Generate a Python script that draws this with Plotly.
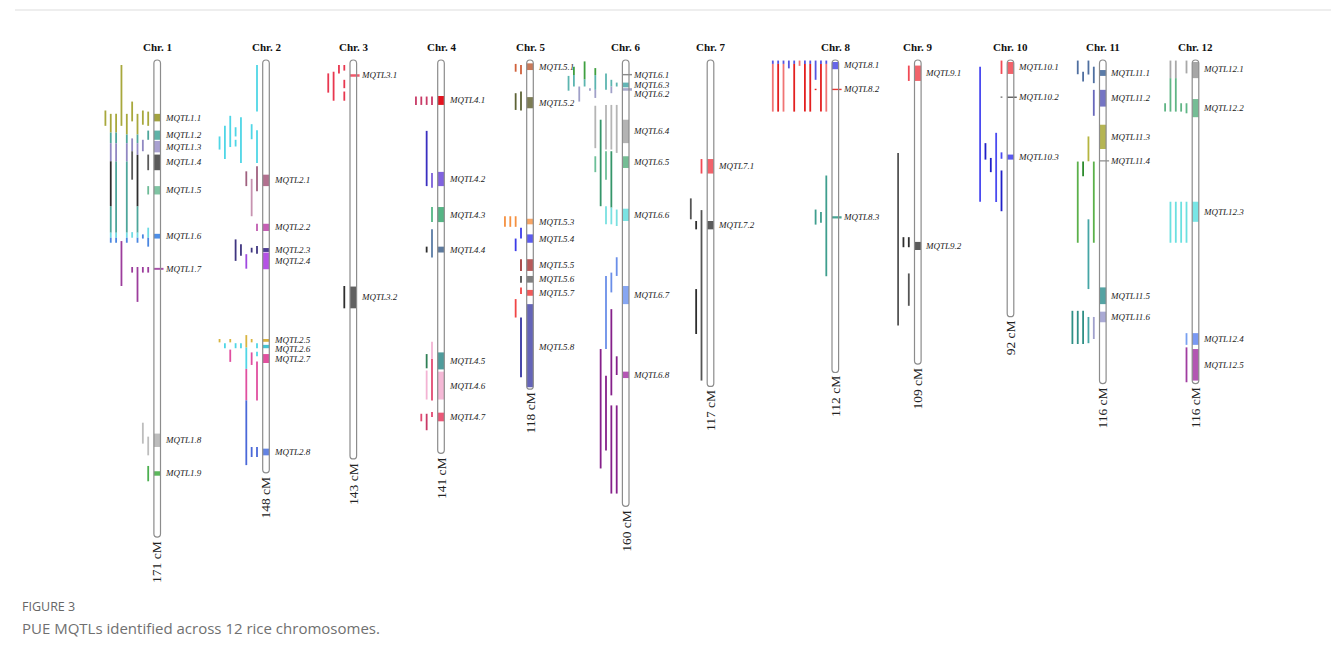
import plotly.graph_objects as go

# ---------------------------------------------------------------- data
CHROMOSOMES = [f"Chr. {i}" for i in range(1, 13)]
LENGTHS_CM = [171, 148, 143, 141, 118, 160, 117, 112, 109, 92, 116, 116]

# Meta-QTL regions on each chromosome: (name, start cM, end cM)
MQTL_REGIONS = [
    [("MQTL1.1", 19.3, 22.0), ("MQTL1.2", 25.3, 28.6), ("MQTL1.3", 29.0, 33.1),
     ("MQTL1.4", 33.9, 39.5), ("MQTL1.5", 45.2, 48.2), ("MQTL1.6", 62.3, 64.0),
     ("MQTL1.7", 74.5, 75.2), ("MQTL1.8", 133.9, 138.7), ("MQTL1.9", 147.4, 149.0)],
    [("MQTL2.1", 41.1, 45.2), ("MQTL2.2", 58.7, 61.3), ("MQTL2.3", 67.4, 68.8),
     ("MQTL2.4", 69.0, 75.0), ("MQTL2.5", 100.0, 101.0), ("MQTL2.6", 102.1, 103.3),
     ("MQTL2.7", 105.4, 108.6), ("MQTL2.8", 139.3, 141.7)],
    [("MQTL3.1", 5.1, 6.0), ("MQTL3.2", 81.2, 89.0)],
    [("MQTL4.1", 12.9, 16.1), ("MQTL4.2", 40.1, 45.2), ("MQTL4.3", 52.7, 58.1),
     ("MQTL4.4", 66.9, 69.0), ("MQTL4.5", 104.8, 110.9), ("MQTL4.6", 111.7, 121.7),
     ("MQTL4.7", 126.4, 129.5)],
    [("MQTL5.1", 1.2, 3.6), ("MQTL5.2", 13.3, 17.3), ("MQTL5.3", 56.9, 58.9),
     ("MQTL5.4", 62.5, 65.5), ("MQTL5.5", 71.4, 75.6), ("MQTL5.6", 77.4, 79.8),
     ("MQTL5.7", 82.4, 84.5), ("MQTL5.8", 87.5, 118.0)],
    [("MQTL6.1", 5.0, 5.5), ("MQTL6.3", 8.1, 9.8), ("MQTL6.2", 10.1, 11.0),
     ("MQTL6.4", 21.4, 29.8), ("MQTL6.5", 34.5, 38.7), ("MQTL6.6", 53.3, 57.7),
     ("MQTL6.7", 81.0, 87.5), ("MQTL6.8", 111.7, 114.0)],
    [("MQTL7.1", 35.5, 40.7), ("MQTL7.2", 57.7, 60.7)],
    [("MQTL8.1", 0.6, 3.3), ("MQTL8.2", 10.3, 10.8), ("MQTL8.3", 56.0, 56.8)],
    [("MQTL9.1", 2.0, 7.5), ("MQTL9.2", 65.2, 68.1)],
    [("MQTL10.1", 0.2, 5.0), ("MQTL10.2", 13.1, 13.6), ("MQTL10.3", 33.9, 35.7)],
    [("MQTL11.1", 3.6, 5.7), ("MQTL11.2", 10.7, 16.7), ("MQTL11.3", 23.2, 31.9),
     ("MQTL11.4", 35.9, 36.4), ("MQTL11.5", 81.5, 87.5), ("MQTL11.6", 90.2, 94.0)],
    [("MQTL12.1", 0.0, 6.5), ("MQTL12.2", 14.0, 20.5), ("MQTL12.3", 50.8, 58.0),
     ("MQTL12.4", 97.9, 102.1), ("MQTL12.5", 103.6, 114.9)],
]

# Projected QTL confidence intervals: (track, start cM, end cM, colour group)
QTL_INTERVALS = [
    [  # Chr. 1
        (8, 18.1, 23.6, "olive"),
        (7, 19.3, 26.0, "olive"), (7, 26.0, 29.8, "teal"), (7, 29.8, 36.3, "lav"),
        (7, 36.3, 52.4, "black"), (7, 52.4, 61.9, "teal"), (7, 61.9, 63.7, "cyan"),
        (7, 63.7, 65.5, "blue"),
        (6, 19.3, 26.0, "olive"), (6, 26.0, 29.8, "teal"), (6, 29.8, 36.3, "lav"),
        (6, 36.3, 61.9, "teal"), (6, 61.9, 63.7, "cyan"), (6, 63.7, 65.5, "blue"),
        (5, 1.8, 23.6, "olive"), (5, 64.9, 81.0, "purple"),
        (4, 19.3, 26.7, "olive"), (4, 26.7, 29.8, "teal"), (4, 29.8, 36.3, "lav"),
        (4, 36.3, 61.9, "teal"), (4, 61.9, 63.7, "cyan"), (4, 63.7, 65.5, "blue"),
        (3, 14.9, 22.0, "olive"), (3, 28.1, 32.7, "lav"), (3, 32.7, 42.9, "dark"),
        (3, 61.7, 63.7, "cyan"), (3, 74.2, 76.2, "purple"),
        (2, 19.3, 26.7, "olive"), (2, 26.7, 29.8, "teal"), (2, 29.8, 34.0, "lav"),
        (2, 34.0, 52.4, "black"), (2, 52.4, 61.9, "teal"), (2, 61.9, 63.7, "cyan"),
        (2, 63.7, 65.5, "blue"), (2, 74.2, 86.7, "purple"),
        (1, 18.1, 23.2, "olive"), (1, 28.6, 32.7, "lav"), (1, 62.5, 64.0, "blue"),
        (1, 74.2, 76.2, "purple"), (1, 130.0, 137.5, "lgray"),
        (0, 18.5, 23.6, "olive"), (0, 25.3, 28.6, "teal"), (0, 33.9, 39.5, "dark"),
        (0, 45.2, 48.2, "mint"), (0, 60.1, 63.7, "cyan"), (0, 63.7, 66.9, "blue"),
        (0, 74.2, 76.2, "purple"), (0, 135.0, 141.7, "lgray"), (0, 145.5, 151.0, "green"),
    ],
    [  # Chr. 2
        (0, 1.8, 18.5, "cyan2"), (0, 25.2, 36.9, "cyan2"), (0, 38.1, 47.0, "mauve"),
        (0, 58.7, 61.3, "orchid"), (0, 66.7, 69.4, "indigo"), (0, 101.5, 103.3, "cyan2"),
        (0, 104.6, 106.2, "cyan2"), (0, 108.1, 122.0, "pink"), (0, 138.7, 142.3, "blue2"),
        (1, 23.0, 28.4, "cyan2"), (1, 42.6, 56.0, "mauvelt"), (1, 67.3, 69.0, "indigo"),
        (1, 100.0, 101.2, "gold"), (1, 104.8, 109.3, "pink"), (1, 138.7, 142.3, "blue2"),
        (2, 39.9, 45.2, "mauve"), (2, 69.6, 74.8, "violet"), (2, 98.6, 103.0, "gold"),
        (2, 103.0, 110.7, "cyan2"), (2, 110.7, 122.0, "pink"), (2, 122.0, 145.2, "blue2"),
        (3, 20.5, 36.9, "cyan2"), (3, 66.0, 70.2, "indigo"), (3, 101.5, 103.3, "cyan2"),
        (4, 24.1, 27.4, "cyan2"), (4, 28.6, 31.0, "cyan2"), (4, 64.3, 72.0, "indigo"),
        (4, 101.5, 103.3, "cyan2"),
        (5, 20.0, 31.2, "cyan2"), (5, 100.0, 101.2, "gold"), (5, 103.8, 108.2, "pink"),
        (6, 23.6, 35.5, "cyan2"), (6, 101.5, 103.3, "cyan2"),
        (7, 27.4, 32.1, "cyan2"), (7, 100.0, 101.2, "gold"),
    ],
    [  # Chr. 3
        (3, 4.8, 11.7, "red3"), (2, 4.2, 14.6, "red3"), (1, 1.8, 4.8, "red3"),
        (0, 1.8, 3.8, "red3"), (0, 7.1, 10.1, "red3"), (0, 11.3, 14.6, "red3"),
        (0, 81.0, 89.0, "black"),
    ],
    [  # Chr. 4
        (3, 13.1, 16.1, "crimson"),
        (2, 13.1, 16.1, "crimson"), (2, 126.8, 129.5, "pinkred"),
        (1, 13.1, 16.1, "crimson"), (1, 25.4, 45.2, "blue4"), (1, 66.9, 69.0, "black"),
        (1, 105.4, 110.5, "dkgreen"), (1, 111.3, 121.7, "lpink"), (1, 126.8, 132.7, "crimson"),
        (0, 13.1, 16.1, "crimson"), (0, 40.5, 45.8, "violet4"), (0, 52.7, 58.1, "green4"),
        (0, 60.7, 70.8, "slate"), (0, 101.0, 107.1, "lpink"), (0, 107.1, 122.0, "pinkred"),
        (0, 126.2, 128.0, "pinkred"),
    ],
    [  # Chr. 5
        (0, 1.8, 5.1, "orred"), (0, 11.3, 18.1, "dkolive"), (0, 60.1, 64.0, "blue5"),
        (0, 71.4, 75.6, "dkred"), (0, 77.4, 79.8, "gray5"), (0, 81.5, 83.9, "red"),
        (0, 92.3, 113.7, "navy"),
        (1, 1.4, 4.2, "orred"), (1, 11.9, 17.9, "dkolive"), (1, 56.0, 59.8, "orange"),
        (1, 64.0, 68.5, "blue5"), (1, 85.7, 92.3, "red"),
        (2, 56.0, 59.8, "orange"), (3, 56.0, 59.8, "orange"),
    ],
    [  # Chr. 6
        (9, 5.7, 11.0, "teal6"),
        (8, 2.4, 5.4, "green6"), (8, 5.4, 9.5, "teal6"),
        (7, 9.5, 14.9, "lav6"),
        (6, 0.5, 6.9, "green6"), (6, 6.9, 9.5, "teal6"),
        (5, 10.1, 11.0, "lav6"),
        (4, 2.9, 5.4, "green6"), (4, 5.4, 10.7, "teal6"), (4, 10.7, 13.6, "lav6"),
        (4, 16.4, 31.6, "gray6"), (4, 34.5, 40.2, "mint6"),
        (3, 21.4, 52.4, "dkgreen6"), (3, 103.6, 146.4, "purple6"),
        (2, 4.8, 10.7, "teal6"), (2, 16.1, 32.1, "gray6"), (2, 32.7, 42.9, "mint6"),
        (2, 52.4, 58.9, "cyan6"), (2, 77.4, 103.6, "lblue"), (2, 113.2, 140.0, "purple6"),
        (1, 7.1, 9.5, "teal6"), (1, 9.5, 11.9, "lav6"), (1, 16.1, 32.1, "gray6"),
        (1, 32.7, 52.9, "dkgreen6"), (1, 52.9, 58.9, "cyan6"), (1, 76.2, 83.3, "lblue"),
        (1, 89.3, 120.2, "purple6"), (1, 123.8, 155.4, "purple6"),
        (0, 8.1, 9.5, "teal6"), (0, 16.1, 33.3, "gray6"), (0, 53.6, 59.5, "cyan6"),
        (0, 70.7, 77.4, "lblue"), (0, 106.2, 112.9, "purple6"), (0, 123.8, 155.4, "purple6"),
    ],
    [  # Chr. 7
        (0, 35.5, 40.7, "red7"), (0, 53.8, 114.9, "dgray"),
        (1, 57.7, 60.7, "black"), (1, 82.1, 98.2, "black"),
        (2, 49.6, 57.1, "dgray"),
    ],
    [  # Chr. 8
        (10, 0.2, 1.4, "blue8"), (10, 1.4, 18.5, "salmon"),
        (9, 0.2, 1.4, "blue8"), (9, 1.4, 18.5, "red8"),
        (8, 0.2, 1.4, "blue8"), (8, 1.4, 18.5, "salmon"),
        (7, 0.2, 3.0, "blue8"),
        (6, 0.2, 1.4, "blue8"), (6, 1.4, 18.5, "red8"),
        (5, 0.2, 2.1, "salmon"),
        (4, 0.2, 1.4, "blue8"), (4, 1.4, 18.5, "red8"),
        (3, 0.2, 1.4, "blue8"), (3, 1.4, 18.5, "red8"),
        (2, 0.2, 7.1, "blue8"), (2, 10.3, 10.8, "red8"), (2, 53.6, 59.0, "teal8"),
        (1, 0.2, 1.4, "blue8"), (1, 1.4, 18.5, "red8"), (1, 54.5, 58.3, "teal8"),
        (0, 0.2, 1.4, "blue8"), (0, 1.4, 18.5, "salmon"), (0, 41.4, 77.5, "teal8"),
    ],
    [  # Chr. 9
        (0, 2.0, 7.5, "red7"), (0, 63.5, 67.1, "black"), (0, 76.5, 88.1, "dgray"),
        (1, 63.5, 67.1, "black"),
        (2, 33.3, 95.2, "dgray"),
    ],
    [  # Chr. 10
        (0, 0.2, 5.0, "red7"), (0, 13.1, 13.5, "dgray"), (0, 33.1, 35.4, "blue10"),
        (0, 39.6, 54.2, "navy10"),
        (1, 26.1, 50.9, "blue10"), (2, 35.1, 40.2, "navy10"), (3, 29.8, 35.7, "navy10"),
        (4, 2.4, 50.8, "blue10"),
    ],
    [  # Chr. 11
        (0, 2.4, 8.3, "slate11"), (0, 10.7, 20.0, "slateblue"), (0, 36.4, 65.5, "green11"),
        (0, 92.1, 100.0, "lav11"),
        (1, 0.2, 5.2, "slate11"), (1, 27.4, 36.3, "olive11"), (1, 57.1, 82.1, "teal11"),
        (1, 92.1, 101.5, "teal11"),
        (2, 4.2, 7.7, "slate11"), (2, 36.4, 41.7, "dkgreen11"), (2, 89.9, 101.8, "tealdk"),
        (3, 0.2, 5.1, "slate11"), (3, 36.4, 65.5, "green11"), (3, 89.9, 101.8, "tealdk"),
        (4, 89.9, 101.8, "tealdk"),
    ],
    [  # Chr. 12
        (0, 0.2, 4.8, "gray12"), (0, 15.5, 19.1, "green12"), (0, 50.8, 65.5, "cyan12"),
        (0, 97.9, 102.1, "lblue12"), (0, 103.0, 115.5, "purple12"),
        (1, 15.5, 18.5, "green12"), (1, 50.8, 65.5, "cyan12"),
        (2, 0.2, 6.5, "gray12"), (2, 6.5, 18.5, "green12"), (2, 50.8, 65.5, "cyan12"),
        (3, 0.2, 6.5, "gray12"), (3, 6.5, 18.5, "green12"), (3, 50.8, 65.5, "cyan12"),
        (4, 15.5, 18.5, "green12"),
    ],
]

# ---------------------------------------------------------------- styles
MQTL_COLOURS = {
    "MQTL1.1": "#a3a33f", "MQTL1.2": "#5fb3a8", "MQTL1.3": "#a9a1d1", "MQTL1.4": "#5a5a5a",
    "MQTL1.5": "#7fc4a3", "MQTL1.6": "#4d8fe8", "MQTL1.7": "#a850a8", "MQTL1.8": "#bdbdbd",
    "MQTL1.9": "#5cb85c",
    "MQTL2.1": "#b2708f", "MQTL2.2": "#c65fb5", "MQTL2.3": "#4d3d94", "MQTL2.4": "#b552e6",
    "MQTL2.5": "#d9b23f", "MQTL2.6": "#45c3d3", "MQTL2.7": "#e2509f", "MQTL2.8": "#6383e3",
    "MQTL3.1": "#ef5a6c", "MQTL3.2": "#616161",
    "MQTL4.1": "#e5131f", "MQTL4.2": "#8062e0", "MQTL4.3": "#55b585", "MQTL4.4": "#5d7a9e",
    "MQTL4.5": "#4f9c9c", "MQTL4.6": "#f5b8d6", "MQTL4.7": "#ec5878",
    "MQTL5.1": "#c97a5a", "MQTL5.2": "#7d7d55", "MQTL5.3": "#f7a565", "MQTL5.4": "#5c5cf0",
    "MQTL5.5": "#b85a5a", "MQTL5.6": "#7f7f7f", "MQTL5.7": "#f25a5a", "MQTL5.8": "#6565b8",
    "MQTL6.1": "#8a8a8a", "MQTL6.2": "#a7a7c9", "MQTL6.3": "#63b5b5", "MQTL6.4": "#b3b3b3",
    "MQTL6.5": "#75bd95", "MQTL6.6": "#7ae3e3", "MQTL6.7": "#86a6f2", "MQTL6.8": "#b457b4",
    "MQTL7.1": "#f2636b", "MQTL7.2": "#5c5c5c",
    "MQTL8.1": "#6666e8", "MQTL8.2": "#e53935", "MQTL8.3": "#48a595",
    "MQTL9.1": "#f2636b", "MQTL9.2": "#5c5c5c",
    "MQTL10.1": "#f2636b", "MQTL10.2": "#5c5c5c", "MQTL10.3": "#5a5af0",
    "MQTL11.1": "#5b7ba8", "MQTL11.2": "#7575c4", "MQTL11.3": "#b5b554", "MQTL11.4": "#9a9a9a",
    "MQTL11.5": "#55a3a3", "MQTL11.6": "#a9a9d4",
    "MQTL12.1": "#a6a6a6", "MQTL12.2": "#75bd95", "MQTL12.3": "#78e6e6", "MQTL12.4": "#7a98f2",
    "MQTL12.5": "#b357b3",
}

BAR_COLOURS = {
    "olive": "#a8a83c", "teal": "#4ea69b", "lav": "#9088c2", "black": "#2e2e2e",
    "dark": "#5a5a5a", "mint": "#6dbb97", "cyan": "#6fdbe3", "blue": "#4a86e0",
    "purple": "#9c3d9c", "lgray": "#bdbdbd", "green": "#4caf50",
    "cyan2": "#4fd6e6", "mauve": "#a0607f", "mauvelt": "#c793b0", "orchid": "#c05cb0",
    "indigo": "#3f3580", "violet": "#a048e0", "gold": "#d8b440", "pink": "#e04fa0",
    "blue2": "#4a68d8",
    "red3": "#e8374f",
    "crimson": "#c83a66", "blue4": "#3a2fc0", "violet4": "#7a5fd8", "green4": "#55b585",
    "slate": "#5a7ca5", "dkgreen": "#2f7f55", "lpink": "#f3b3d3", "pinkred": "#e24a72",
    "orred": "#d0603a", "dkolive": "#5d6335", "orange": "#f59040", "blue5": "#3b3be8",
    "dkred": "#a23a3a", "gray5": "#505050", "red": "#f04545", "navy": "#3333a0",
    "green6": "#3fa040", "teal6": "#5cb5b0", "lav6": "#a0a0c8", "gray6": "#b5b5b5",
    "mint6": "#6cbf98", "dkgreen6": "#35956a", "cyan6": "#79e0e0", "lblue": "#6a8ee8",
    "purple6": "#85208a",
    "red7": "#f04a55", "dgray": "#555555",
    "blue8": "#5555e0", "salmon": "#f07575", "red8": "#e32020", "teal8": "#3f9e8e",
    "blue10": "#4a4af0", "navy10": "#2020c8",
    "slate11": "#4f6fa0", "slateblue": "#6868bb", "olive11": "#b5b540", "green11": "#5bb04a",
    "dkgreen11": "#2e8b2e", "teal11": "#45a5a5", "tealdk": "#2f8f85", "lav11": "#a0a0cc",
    "gray12": "#a8a8a8", "green12": "#5fb585", "cyan12": "#6be0e0", "lblue12": "#78a0f0",
    "purple12": "#a03ca0",
}

# ---------------------------------------------------------------- layout
W, H = 1331, 661
TOP_PX = 60            # pixel row of 0 cM
PX_PER_CM = 2.79
CHROM_X = [157.2, 266, 353.3, 441, 530, 625.7, 710.5, 835.3, 917.8, 1010.5, 1102.8, 1195.5]
HALF_W = 3.3           # half width of a chromosome, px
TRACK_OFFSET = 9.0     # first QTL track, px left of the chromosome axis
TRACK_GAP = 5.35       # spacing between QTL tracks, px
LABEL_GAP_CM = 3.1     # minimum vertical spacing of MQTL labels
SERIF = "Liberation Serif, Times New Roman, serif"

fig = go.Figure()

# QTL intervals, one trace per colour
segments = {}
for ci, intervals in enumerate(QTL_INTERVALS):
    cx = CHROM_X[ci]
    for track, start, end, key in intervals:
        x = cx - TRACK_OFFSET - TRACK_GAP * track
        xs, ys = segments.setdefault(key, ([], []))
        xs += [x, x, None]
        ys += [start, end, None]

for key, (xs, ys) in segments.items():
    fig.add_trace(go.Scatter(
        x=xs, y=ys, mode="lines", hoverinfo="skip", showlegend=False,
        line=dict(color=BAR_COLOURS[key], width=1.8),
    ))

shapes = []
annotations = []
r_cm = HALF_W / PX_PER_CM

for ci, (name, length) in enumerate(zip(CHROMOSOMES, LENGTHS_CM)):
    cx = CHROM_X[ci]
    x0, x1 = cx - HALF_W, cx + HALF_W
    path = (f"M {x0},{r_cm} Q {x0},0 {cx},0 Q {x1},0 {x1},{r_cm} "
            f"L {x1},{length - r_cm} Q {x1},{length} {cx},{length} "
            f"Q {x0},{length} {x0},{length - r_cm} Z")
    # white body
    shapes.append(dict(type="path", path=path, xref="x", yref="y", layer="below",
                       fillcolor="white", line=dict(width=0)))

    # MQTL blocks
    for mname, start, end in MQTL_REGIONS[ci]:
        s = max(start, r_cm * 0.6)
        e = min(end, length - r_cm * 0.6)
        bx0, bx1 = x0, x1
        if e - s < 1.0:
            bx1 = x1 + 3
        shapes.append(dict(type="rect", xref="x", yref="y", x0=bx0, x1=bx1, y0=s, y1=e,
                           fillcolor=MQTL_COLOURS[mname], line=dict(width=0), layer="above"))

    # outline
    shapes.append(dict(type="path", path=path, xref="x", yref="y", layer="above",
                       fillcolor="rgba(0,0,0,0)", line=dict(color="#8c8c8c", width=1.2)))

    # MQTL labels, nudged apart where they crowd
    prev = -1e9
    for mname, start, end in sorted(MQTL_REGIONS[ci], key=lambda m: (m[1] + m[2]) / 2):
        pos = max((start + end) / 2, prev + LABEL_GAP_CM)
        prev = pos
        annotations.append(dict(
            x=x1 + 2.2, y=pos, xref="x", yref="y", text=f"<i>{mname}</i>",
            showarrow=False, xanchor="left", yanchor="middle",
            font=dict(family=SERIF, size=9, color="#222222"),
        ))

    # chromosome title
    annotations.append(dict(
        x=cx, y=-4.8, xref="x", yref="y", text=f"<b>{name}</b>", showarrow=False,
        xanchor="center", yanchor="middle", font=dict(family=SERIF, size=11, color="#111111"),
    ))
    # length
    annotations.append(dict(
        x=cx, y=length + 0.6, xref="x", yref="y", text=f"{length} cM", showarrow=False,
        textangle=-90, xanchor="center", yanchor="top",
        font=dict(family=SERIF, size=13.5, color="#222222"),
    ))

# caption
annotations.append(dict(
    x=20 / W, y=1 - 606 / H, xref="paper", yref="paper", text="FIGURE 3", showarrow=False,
    xanchor="left", yanchor="middle", font=dict(family="Open Sans, sans-serif", size=12.5, color="#666666"),
))
annotations.append(dict(
    x=20 / W, y=1 - 628 / H, xref="paper", yref="paper",
    text="PUE MQTLs identified across 12 rice chromosomes.", showarrow=False,
    xanchor="left", yanchor="middle", font=dict(family="Open Sans, sans-serif", size=15, color="#707070"),
))
shapes.append(dict(type="line", xref="paper", yref="paper", x0=15 / W, x1=1,
                   y0=1 - 10 / H, y1=1 - 10 / H, line=dict(color="#dddddd", width=1)))

fig.update_layout(
    width=W, height=H, margin=dict(l=0, r=0, t=0, b=0),
    paper_bgcolor="white", plot_bgcolor="white",
    xaxis=dict(range=[0, W], visible=False, fixedrange=True),
    yaxis=dict(range=[(H - TOP_PX) / PX_PER_CM, -TOP_PX / PX_PER_CM], visible=False, fixedrange=True),
    shapes=shapes, annotations=annotations, showlegend=False,
)

fig.write_html("out.html")
